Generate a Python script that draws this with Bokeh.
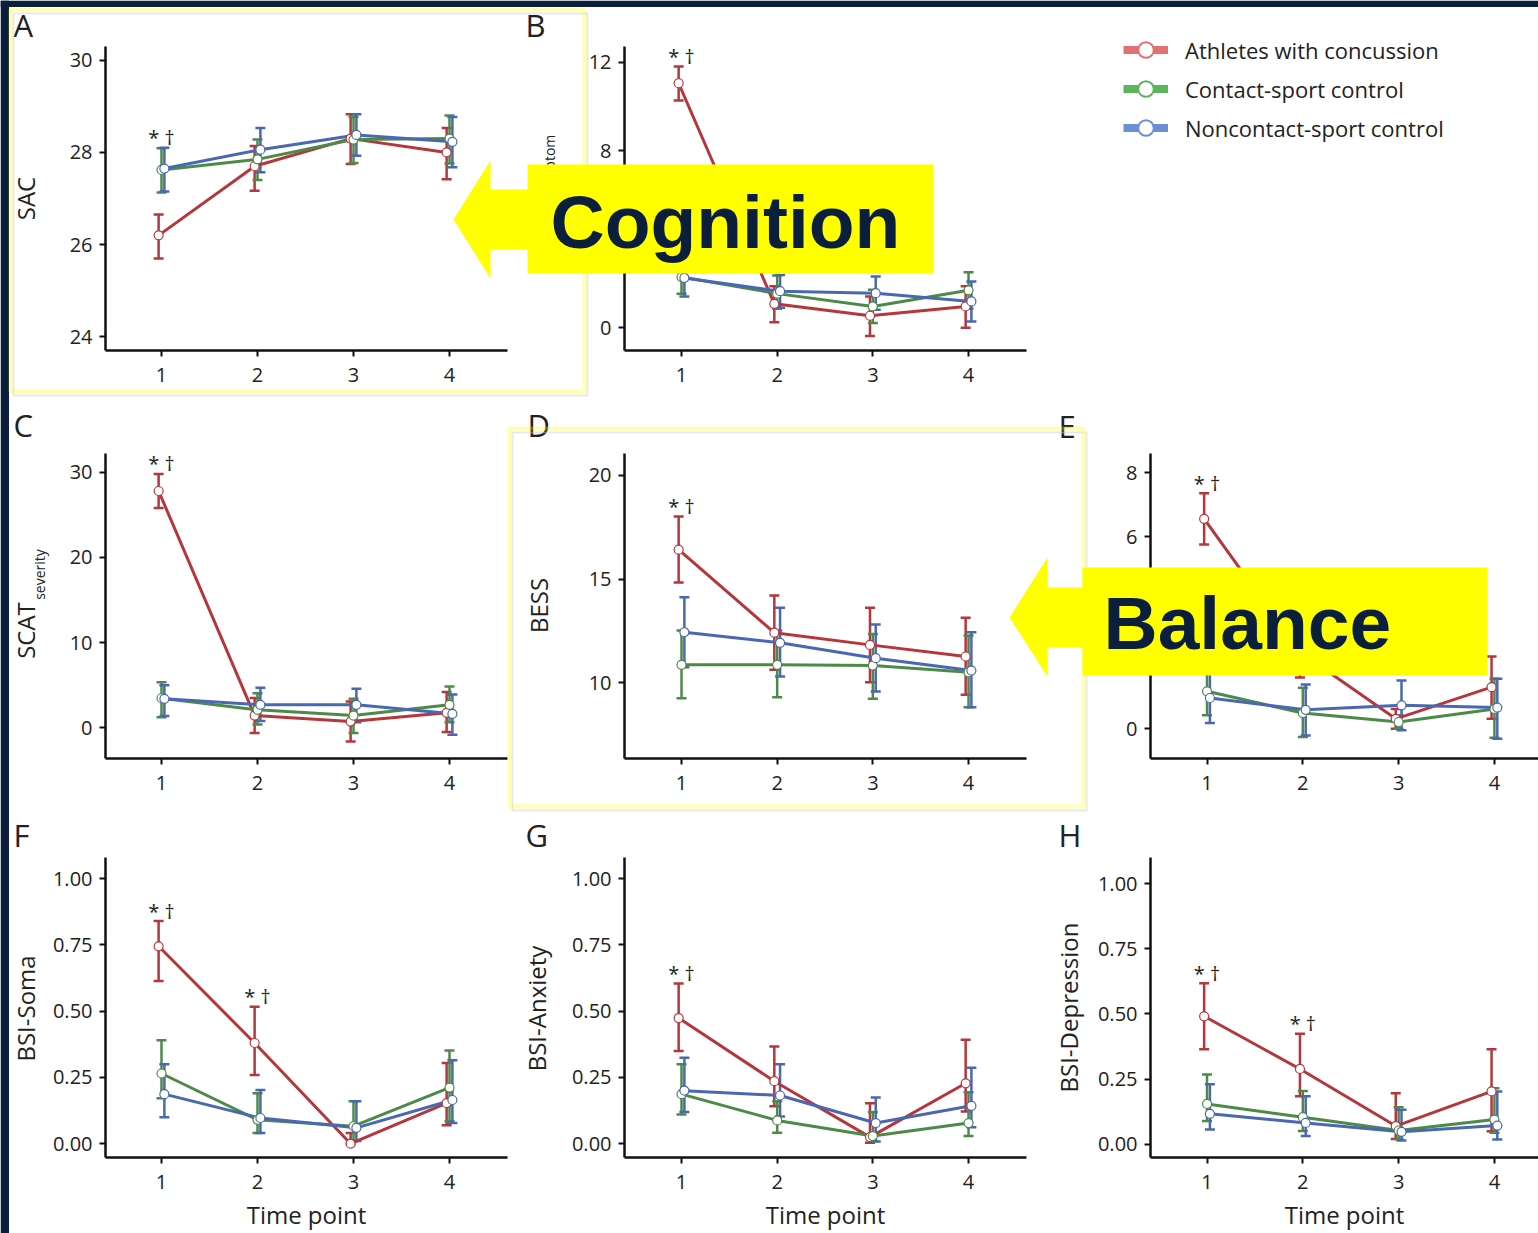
import math
import numpy as np
from bokeh.plotting import figure
from bokeh.models import (ColumnDataSource, Range1d, FixedTicker, Whisker, TeeHead, Label,
                          PolyAnnotation, Legend, LegendItem, NumeralTickFormatter, GridBox, Spacer)
from bokeh.layouts import column
from bokeh.embed import file_html
from bokeh.resources import INLINE
from bokeh.core.properties import value

# ---------------- data ----------------
TIME_POINTS = [1, 2, 3, 4]
GROUPS = ["Athletes with concussion", "Contact-sport control", "Noncontact-sport control"]
# order of inner lists: concussion, contact control, noncontact control

SAC_MEAN = [[26.2, 27.7, 28.3, 28.0], [27.62, 27.85, 28.28, 28.3], [27.65, 28.06, 28.38, 28.23]]
SAC_LO = [[25.7, 27.17, 27.75, 27.42], [27.13, 27.4, 27.77, 27.76], [27.15, 27.57, 27.93, 27.68]]
SAC_HI = [[26.65, 28.14, 28.83, 28.53], [28.09, 28.28, 28.77, 28.8], [28.1, 28.53, 28.83, 28.77]]

SYM_MEAN = [[11.05, 1.08, 0.54, 0.96], [2.29, 1.54, 0.96, 1.69], [2.25, 1.65, 1.56, 1.19]]
SYM_LO = [[10.27, 0.25, -0.38, 0.0], [1.54, 0.86, 0.21, 0.86], [1.41, 0.9, 0.81, 0.28]]
SYM_HI = [[11.81, 1.87, 1.41, 1.87], [3.04, 2.36, 1.72, 2.51], [3.1, 2.38, 2.32, 2.09]]

SEV_MEAN = [[27.8, 1.44, 0.74, 1.76], [3.47, 2.11, 1.44, 2.7], [3.4, 2.7, 2.7, 1.64]]
SEV_LO = [[25.8, -0.6, -1.6, -0.5], [1.24, 0.39, -0.6, 0.66], [1.4, 0.8, 0.66, -0.8]]
SEV_HI = [[29.8, 3.5, 3.1, 4.2], [5.35, 4.06, 3.4, 4.85], [5.0, 4.7, 4.58, 3.9]]

BESS_MEAN = [[16.42, 12.42, 11.83, 11.27], [10.87, 10.87, 10.83, 10.51], [12.44, 11.93, 11.19, 10.59]]
BESS_LO = [[14.84, 10.63, 10.03, 9.42], [9.26, 9.31, 9.23, 8.82], [10.75, 10.3, 9.58, 8.82]]
BESS_HI = [[18.02, 14.21, 13.62, 13.14], [12.52, 12.52, 12.36, 12.28], [14.13, 13.62, 12.81, 12.44]]

E_MEAN = [[6.56, 2.4, 0.31, 1.3], [1.17, 0.49, 0.21, 0.62], [0.96, 0.59, 0.73, 0.66]]
E_LO = [[5.76, 1.6, 0.0, 0.31], [0.42, -0.26, 0.0, -0.28], [0.18, -0.21, -0.05, -0.31]]
E_HI = [[7.36, 3.2, 0.62, 2.26], [1.92, 1.28, 0.42, 1.56], [1.74, 1.38, 1.51, 1.56]]

SOMA_MEAN = [[0.745, 0.38, 0.0, 0.153], [0.265, 0.09, 0.066, 0.212], [0.187, 0.097, 0.06, 0.165]]
SOMA_LO = [[0.614, 0.259, 0.0, 0.07], [0.172, 0.04, 0.01, 0.085], [0.10, 0.04, 0.01, 0.078]]
SOMA_HI = [[0.84, 0.517, 0.04, 0.305], [0.39, 0.19, 0.16, 0.352], [0.30, 0.203, 0.16, 0.315]]

ANX_MEAN = [[0.474, 0.236, 0.025, 0.228], [0.187, 0.088, 0.029, 0.078], [0.20, 0.182, 0.078, 0.143]]
ANX_LO = [[0.35, 0.141, 0.004, 0.122], [0.11, 0.041, 0.01, 0.029], [0.12, 0.103, 0.008, 0.062]]
ANX_HI = [[0.605, 0.367, 0.153, 0.392], [0.30, 0.16, 0.12, 0.194], [0.324, 0.30, 0.174, 0.287]]

DEP_MEAN = [[0.491, 0.289, 0.07, 0.203], [0.155, 0.104, 0.053, 0.095], [0.117, 0.082, 0.048, 0.072]]
DEP_LO = [[0.365, 0.184, 0.02, 0.05], [0.089, 0.051, 0.02, 0.044], [0.057, 0.032, 0.015, 0.019]]
DEP_HI = [[0.618, 0.424, 0.196, 0.365], [0.268, 0.205, 0.142, 0.215], [0.23, 0.184, 0.133, 0.203]]

TICKS_SAC = [24, 26, 28, 30]
TICKS_SYM = [0, 4, 8, 12]
TICKS_SEV = [0, 10, 20, 30]
TICKS_BESS = [10, 15, 20]
TICKS_E = [0, 2, 4, 6, 8]
TICKS_BSI = [0, 0.25, 0.5, 0.75, 1.0]

SIG_A = [1]
SIG_B = [1]
SIG_C = [1]
SIG_D = [1]
SIG_E = [1]
SIG_F = [1, 2]
SIG_G = [1]
SIG_H = [1, 2]

# ---------------- styling / layout ----------------
LINE_COLORS = ["#b5373b", "#4c8a48", "#4a67b2"]
LEGEND_COLORS = ["#e07274", "#5cb55a", "#6b8fd6"]
YELLOW = "#ffff00"
NAVY = "#0b1f3d"
TXT = "#222222"
FONT = "Open Sans"
DODGE = [-0.03, 0.0, 0.03]

PAGE_W, PAGE_H = 1538, 1233
COL_W = [520, 520, 498]
ROW_H = [400, 408, 425]
FRAME_L = [105, 104, 110]
FRAME_R = [13, 14, 0]
FRAME_T = [46, 53, 49]
FRAME_B = [50, 50, 73]
XR = [(0.4167, 4.604), (0.404, 4.606), (0.41, 4.46)]

# decorations in page pixel coordinates
EDGE_STRIPS = [(0, 0, 8.5, PAGE_H), (0, 0, PAGE_W, 6.5)]
OUTLINES = [(10, 9, 584, 391), (509, 428, 1083, 806)]
ARROWS = [
    [(453, 219), (490, 160), (490, 189), (530, 189), (530, 249), (490, 249), (490, 278)],
    [(1009, 617), (1047, 557), (1047, 587), (1085, 587), (1085, 647), (1047, 647), (1047, 676)],
]
BOXES = [(527, 164, 933, 273), (1082, 567, 1487, 675)]
BIG_TEXTS = [("Cognition", 550, 221), ("Balance", 1103, 622)]
LETTERS = [("A", 13, 24), ("B", 525, 24), ("C", 13, 424), ("D", 527, 424), ("E", 1058, 425),
           ("F", 13, 834), ("G", 525, 834), ("H", 1058, 834)]
Y_TITLES = [("SAC", "24px", 25, 198), ("SCAT", "24px", 535, 223), ("symptom", "14px", 549, 165),
            ("SCAT", "24px", 25, 630), ("severity", "14px", 39, 574), ("BESS", "24px", 538, 605),
            ("BSI-Soma", "24px", 25, 1008), ("BSI-Anxiety", "24px", 536, 1008),
            ("BSI-Depression", "24px", 1068, 1007)]
LEGEND_POS = (1123, 1086)

PANELS = [
    dict(r=0, c=0, m=SAC_MEAN, lo=SAC_LO, hi=SAC_HI, yr=(23.70, 30.30), ticks=TICKS_SAC, sig=SIG_A, fmt=None),
    dict(r=0, c=1, m=SYM_MEAN, lo=SYM_LO, hi=SYM_HI, yr=(-1.03, 12.71), ticks=TICKS_SYM, sig=SIG_B, fmt=None),
    dict(r=1, c=0, m=SEV_MEAN, lo=SEV_LO, hi=SEV_HI, yr=(-3.6, 32.2), ticks=TICKS_SEV, sig=SIG_C, fmt=None),
    dict(r=1, c=1, m=BESS_MEAN, lo=BESS_LO, hi=BESS_HI, yr=(6.35, 21.06), ticks=TICKS_BESS, sig=SIG_D, fmt=None),
    dict(r=1, c=2, m=E_MEAN, lo=E_LO, hi=E_HI, yr=(-0.93, 8.60), ticks=TICKS_E, sig=SIG_E, fmt=None),
    dict(r=2, c=0, m=SOMA_MEAN, lo=SOMA_LO, hi=SOMA_HI, yr=(-0.052, 1.08), ticks=TICKS_BSI, sig=SIG_F, fmt="0.00"),
    dict(r=2, c=1, m=ANX_MEAN, lo=ANX_LO, hi=ANX_HI, yr=(-0.052, 1.08), ticks=TICKS_BSI, sig=SIG_G, fmt="0.00"),
    dict(r=2, c=2, m=DEP_MEAN, lo=DEP_LO, hi=DEP_HI, yr=(-0.0505, 1.10), ticks=TICKS_BSI, sig=SIG_H, fmt="0.00"),
]


def style_axis(ax):
    ax.axis_line_width = 2.5
    ax.axis_line_color = "#111111"
    ax.major_tick_line_width = 2
    ax.major_tick_line_color = "#111111"
    ax.major_tick_out = 6
    ax.major_tick_in = 0
    ax.minor_tick_line_color = None
    ax.major_label_text_font = FONT
    ax.major_label_text_font_size = "20px"
    ax.major_label_text_color = TXT


def make_panel(s):
    r, c = s["r"], s["c"]
    p = figure(width=COL_W[c], height=ROW_H[r], x_range=Range1d(*XR[c]), y_range=Range1d(*s["yr"]),
               toolbar_location=None, output_backend="svg",
               min_border_left=FRAME_L[c], min_border_right=FRAME_R[c],
               min_border_top=FRAME_T[r], min_border_bottom=FRAME_B[r])
    p.outline_line_color = None
    p.xgrid.visible = False
    p.ygrid.visible = False
    style_axis(p.xaxis[0])
    style_axis(p.yaxis[0])
    p.xaxis.ticker = FixedTicker(ticks=TIME_POINTS)
    p.yaxis.ticker = FixedTicker(ticks=s["ticks"])
    p.xaxis.major_label_standoff = 11
    p.yaxis.major_label_standoff = 7
    if s["fmt"]:
        p.yaxis.formatter = NumeralTickFormatter(format=s["fmt"])
    if r == 2:
        p.xaxis.axis_label = "Time point"
        p.xaxis.axis_label_text_font = FONT
        p.xaxis.axis_label_text_font_size = "24px"
        p.xaxis.axis_label_text_font_style = "normal"
        p.xaxis.axis_label_text_color = TXT
        p.xaxis.axis_label_standoff = 6

    for gi in range(3):
        col = LINE_COLORS[gi]
        src = ColumnDataSource(dict(x=[t + DODGE[gi] for t in TIME_POINTS],
                                    mean=s["m"][gi], lo=s["lo"][gi], hi=s["hi"][gi]))
        p.add_layout(Whisker(source=src, base="x", upper="hi", lower="lo", line_color=col, line_width=2.5,
                             upper_head=TeeHead(size=10, line_color=col, line_width=2.5),
                             lower_head=TeeHead(size=10, line_color=col, line_width=2.5)))
        p.line("x", "mean", source=src, line_color=col, line_width=3)
    for gi in range(3):
        src = ColumnDataSource(dict(x=[t + DODGE[gi] for t in TIME_POINTS], mean=s["m"][gi]))
        p.scatter("x", "mean", source=src, size=9, fill_color="white", line_color=LINE_COLORS[gi],
                  line_width=1.2)

    sig_x = s["sig"]
    sig_y = [max(s["hi"][gi][t - 1] for gi in range(3)) for t in sig_x]
    p.text(x=sig_x, y=sig_y, text=["* \u2020"] * len(sig_x), text_align="center",
           text_baseline="middle", y_offset=-10, text_font=value(FONT), text_font_size="20px",
           text_color=TXT)
    return p


def rect_pts(x0, y0, x1, y1):
    return [x0, x1, x1, x0], [y0, y0, y1, y1]


def make_overlay():
    p = figure(width=PAGE_W, height=PAGE_H, x_range=Range1d(0, PAGE_W), y_range=Range1d(PAGE_H, 0),
               toolbar_location=None, output_backend="svg", min_border=0,
               x_axis_location=None, y_axis_location=None)
    p.outline_line_color = None
    p.background_fill_color = None
    p.border_fill_color = None
    p.xgrid.visible = False
    p.ygrid.visible = False

    # legend (proxies carry no visible data)
    items = []
    for gi, name in enumerate(GROUPS):
        col = LEGEND_COLORS[gi]
        proxy = ColumnDataSource(dict(x=np.array([np.nan]), y=np.array([np.nan])))
        rl = p.line("x", "y", source=proxy, line_color=col, line_width=8)
        rs = p.scatter("x", "y", source=proxy, size=20, fill_color="white", line_color=col, line_width=2)
        items.append(LegendItem(label=name, renderers=[rl, rs]))
    p.add_layout(Legend(items=items, location=LEGEND_POS, glyph_width=45, glyph_height=39, spacing=0,
                        padding=0, margin=0, label_standoff=17, label_text_font=FONT,
                        label_text_font_size="22px", label_text_color=TXT,
                        border_line_color=None, background_fill_alpha=0))

    for (x0, y0, x1, y1) in EDGE_STRIPS:
        xs, ys = rect_pts(x0, y0, x1, y1)
        p.add_layout(PolyAnnotation(xs=xs, ys=ys, fill_color=NAVY, fill_alpha=1, line_alpha=0))
    for (txt, fs, x, y) in Y_TITLES:
        p.add_layout(Label(x=x, y=y, text=txt, angle=math.pi / 2, text_font=FONT, text_font_size=fs,
                           text_color=TXT, text_align="center", text_baseline="middle"))
    for (txt, x, y) in LETTERS:
        p.add_layout(Label(x=x, y=y, text=txt, text_font=FONT, text_font_size="31px",
                           text_color=TXT, text_align="left", text_baseline="middle"))
    for (x0, y0, x1, y1) in OUTLINES:
        xs, ys = rect_pts(x0 + 3, y0 + 4, x1 + 3, y1 + 4)
        p.add_layout(PolyAnnotation(xs=xs, ys=ys, fill_alpha=0, line_color="#cfcfcf",
                                    line_alpha=0.45, line_width=2))
        xs, ys = rect_pts(x0, y0, x1, y1)
        p.add_layout(PolyAnnotation(xs=xs, ys=ys, fill_alpha=0, line_color=YELLOW, line_width=4))
    for pts in ARROWS:
        p.add_layout(PolyAnnotation(xs=[a for a, _ in pts], ys=[b for _, b in pts],
                                    fill_color=YELLOW, fill_alpha=1, line_alpha=0))
    for (x0, y0, x1, y1) in BOXES:
        xs, ys = rect_pts(x0, y0, x1, y1)
        p.add_layout(PolyAnnotation(xs=xs, ys=ys, fill_color=YELLOW, fill_alpha=1, line_alpha=0))
    for (txt, x, y) in BIG_TEXTS:
        p.add_layout(Label(x=x, y=y, text=txt, text_font="Liberation Sans", text_font_style="bold",
                           text_font_size="75px", text_color=NAVY, text_align="left",
                           text_baseline="middle"))
    return p


figs = [make_panel(s) for s in PANELS]
blank = Spacer(width=COL_W[2], height=ROW_H[0])
children = [(figs[0], 0, 0), (figs[1], 0, 1), (blank, 0, 2),
            (figs[2], 1, 0), (figs[3], 1, 1), (figs[4], 1, 2),
            (figs[5], 2, 0), (figs[6], 2, 1), (figs[7], 2, 2)]
grid = GridBox(children=children)
overlay = make_overlay()
overlay.margin = (-PAGE_H, 0, 0, 0)   # lay the decoration canvas over the grid
page = column(grid, overlay)

open("out.html", "w").write(file_html(page, INLINE))
